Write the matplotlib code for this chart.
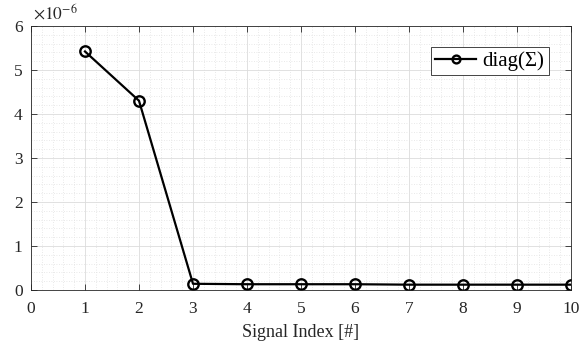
import numpy as np
import matplotlib.pyplot as plt
from matplotlib.ticker import MultipleLocator

# singular values, in units of 1e-6
signal_index = [1, 2, 3, 4, 5, 6, 7, 8, 9, 10]
sigma_diag = [5.42, 4.30, 0.14, 0.13, 0.13, 0.13, 0.12, 0.12, 0.12, 0.12]

plt.rcParams['font.family'] = ['Liberation Serif', 'DejaVu Serif']
plt.rcParams['mathtext.fontset'] = 'stix'

fig = plt.figure(figsize=(5.85, 3.46), dpi=100)
ax = fig.add_axes([0.053, 0.162, 0.923, 0.763])

ax.plot(signal_index, sigma_diag, color='black', linewidth=1.6,
        marker='o', markersize=7.5, markerfacecolor='none',
        markeredgewidth=1.7, label='diag(Σ)')

ax.set_xlim(0, 10)
ax.set_ylim(0, 6)
ax.xaxis.set_major_locator(MultipleLocator(1))
ax.yaxis.set_major_locator(MultipleLocator(1))
ax.xaxis.set_minor_locator(MultipleLocator(0.2))
ax.yaxis.set_minor_locator(MultipleLocator(0.2))

ax.grid(which='major', color='#dcdcdc', linewidth=0.6, linestyle='-')
ax.grid(which='minor', color='#e2e2e2', linewidth=0.6, linestyle=(0, (1, 2)))
ax.set_axisbelow(True)

ax.tick_params(which='major', direction='in', length=4, top=True, right=True,
               labelsize=12.5, colors='#262626', width=0.6)
ax.tick_params(axis='x', pad=8)
ax.tick_params(axis='y', pad=6)
ax.tick_params(which='minor', length=0)
for s in ax.spines.values():
    s.set_color('#262626')
    s.set_linewidth(0.6)

ax.set_xlabel('Signal Index [#]', fontsize=13, color='#262626', labelpad=5)
ax.text(0.003, 1.01, r'$\times10^{-6}$', transform=ax.transAxes,
        fontsize=12.5, color='#262626', va='bottom', ha='left')

leg = ax.legend(loc='upper right', fontsize=15, fancybox=False,
                framealpha=1, edgecolor='#262626', handlelength=2.0,
                borderpad=0.2, handletextpad=0.3, markerscale=0.75,
                bbox_to_anchor=(0.978, 0.96))
leg.get_frame().set_linewidth(0.6)

fig.savefig('out.png', dpi=100)
